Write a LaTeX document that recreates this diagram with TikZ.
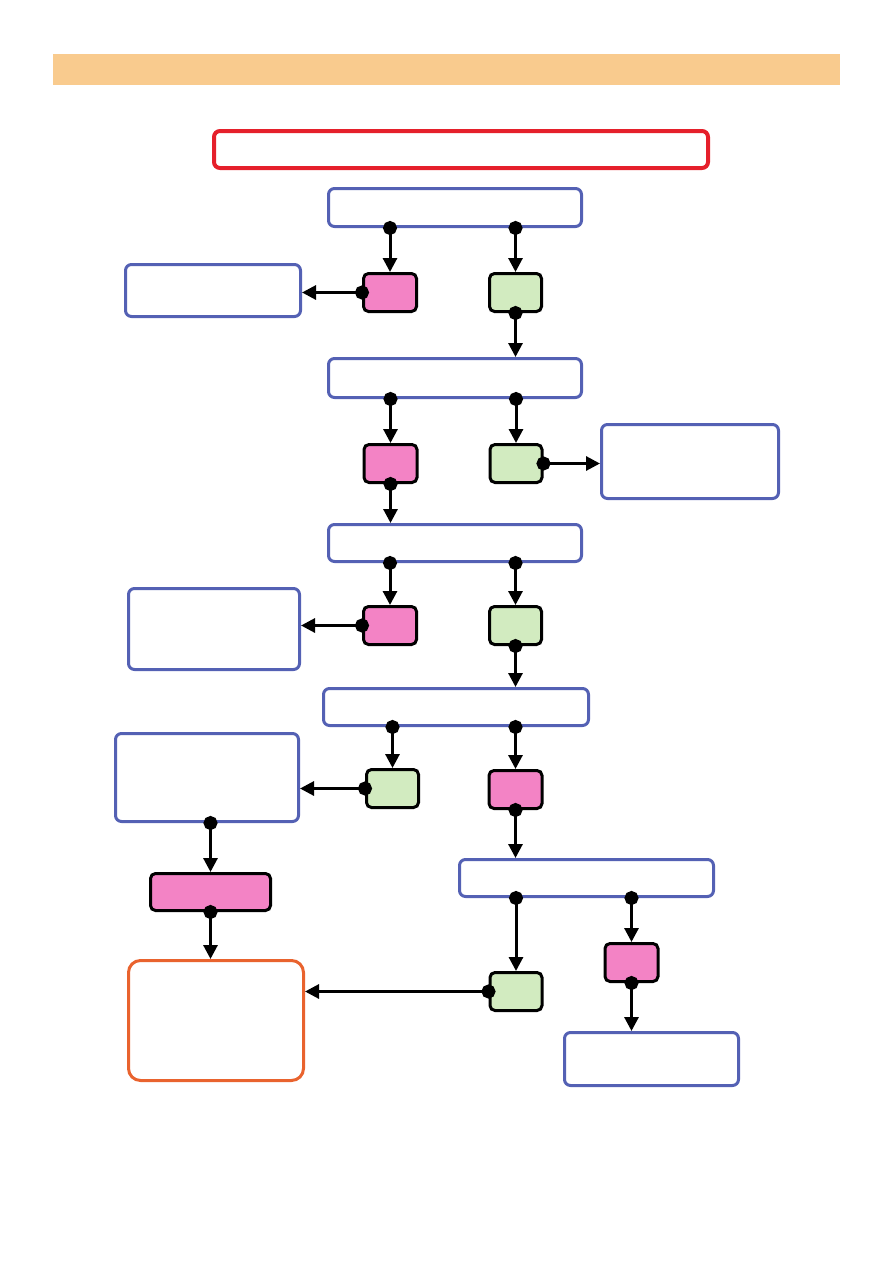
\documentclass[tikz,border=0pt]{standalone}
\usetikzlibrary{arrows.meta}
\definecolor{barorange}{HTML}{F9CB8E}
\definecolor{boxred}{HTML}{E5202B}
\definecolor{boxblue}{HTML}{5461B4}
\definecolor{boxorange}{HTML}{E9632E}
\definecolor{yespink}{HTML}{F383C5}
\definecolor{nogreen}{HTML}{D2EBC0}
\tikzset{
  step box/.style={draw=boxblue, line width=3pt, rounded corners=6pt, fill=white, inner sep=0pt},
  pinkbox/.style={draw=black, fill=yespink, line width=3pt, rounded corners=5pt, inner sep=0pt, minimum width=53pt, minimum height=38pt},
  greenbox/.style={draw=black, fill=nogreen, line width=3pt, rounded corners=5pt, inner sep=0pt, minimum width=52pt, minimum height=38pt},
  link/.style={line width=3pt, {Circle[length=14pt]}-{Triangle[length=14pt,width=14pt]}, shorten <=-7pt}
}
\begin{document}
\begin{tikzpicture}[x=1pt,y=-1pt]
\useasboundingbox (0,0) rectangle (893,1263);
% heading bar and title frame
\fill[barorange] (53,54) rectangle (840,85);
\node[draw=boxred, line width=4pt, rounded corners=6pt, inner sep=0pt, minimum width=494pt, minimum height=37pt] (title) at (461,149.5) {};
% question boxes
\node[step box, minimum width=253pt, minimum height=38pt] (q1) at (455,207.5) {};
\node[step box, minimum width=253pt, minimum height=39pt] (q2) at (455,378) {};
\node[step box, minimum width=253pt, minimum height=37pt] (q3) at (455,543) {};
\node[step box, minimum width=265pt, minimum height=37pt] (q4) at (456,707) {};
\node[step box, minimum width=254pt, minimum height=37pt] (q5) at (586.5,878) {};
% answers
\node[pinkbox] (p1) at (390,292.5) {};
\node[greenbox] (g1) at (515.5,292.5) {};
\node[pinkbox] (p2) at (390.5,463.5) {};
\node[greenbox] (g2) at (516,463.5) {};
\node[pinkbox] (p3) at (390,625.5) {};
\node[greenbox] (g3) at (515.5,625.5) {};
\node[greenbox] (g4) at (392.5,788.5) {};
\node[pinkbox] (p4) at (515.5,789.5) {};
\node[greenbox] (g5) at (516,991.5) {};
\node[pinkbox] (p6) at (631.5,962.5) {};
\node[pinkbox, minimum width=120pt, minimum height=37pt] (p5) at (210.5,892) {};
% result boxes
\node[step box, minimum width=175pt, minimum height=52pt] (l1) at (213,290.5) {};
\node[step box, minimum width=177pt, minimum height=74pt] (r2) at (690,461.5) {};
\node[step box, minimum width=171pt, minimum height=81pt] (l3) at (214,629) {};
\node[step box, minimum width=183pt, minimum height=88pt] (l4) at (207,777.5) {};
\node[step box, minimum width=174pt, minimum height=53pt] (r6) at (651.5,1059) {};
\node[step box, draw=boxorange, rounded corners=12pt, minimum width=175pt, minimum height=120pt] (end) at (216,1020.5) {};
% connectors
\draw[link] (q1.south -| p1) -- (p1.north);
\draw[link] (q1.south -| g1) -- (g1.north);
\draw[link] (p1.west) -- (l1.east |- p1.west);
\draw[link] (g1.south) -- (q2.north -| g1.south);
\draw[link] (q2.south -| p2) -- (p2.north);
\draw[link] (q2.south -| g2) -- (g2.north);
\draw[link] (g2.east) -- (r2.west |- g2.east);
\draw[link] (p2.south) -- (q3.north -| p2.south);
\draw[link] (q3.south -| p3) -- (p3.north);
\draw[link] (q3.south -| g3) -- (g3.north);
\draw[link] (p3.west) -- (l3.east |- p3.west);
\draw[link] (g3.south) -- (q4.north -| g3.south);
\draw[link] (q4.south -| g4) -- (g4.north);
\draw[link] (q4.south -| p4) -- (p4.north);
\draw[link] (g4.west) -- (l4.east |- g4.west);
\draw[link] (l4.south -| p5) -- (p5.north);
\draw[link] (p5.south) -- (end.north -| p5.south);
\draw[link] (p4.south) -- (q5.north -| p4.south);
\draw[link] (q5.south -| g5) -- (g5.north);
\draw[link] (q5.south -| p6) -- (p6.north);
\draw[link] (g5.west) -- (end.east |- g5.west);
\draw[link] (p6.south) -- (r6.north -| p6.south);
\end{tikzpicture}
\end{document}
